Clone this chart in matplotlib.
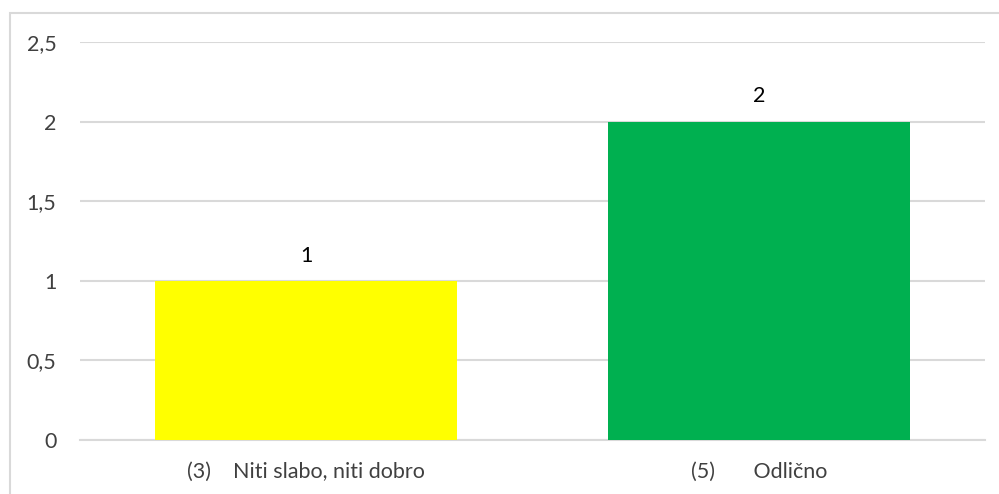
import matplotlib.pyplot as plt
from matplotlib.patches import Rectangle

categories = ["(3)    Niti slabo, niti dobro", "(5)       Odlično"]
values = [1, 2]
colors = ["#FFFF00", "#00B050"]
yticks = [0, 0.5, 1, 1.5, 2, 2.5]
ytick_labels = ["0", "0,5", "1", "1,5", "2", "2,5"]

plt.rcParams['font.family'] = ['Lato', 'DejaVu Sans']

fig = plt.figure(figsize=(9.99, 4.94), dpi=100)
W, H = 999, 494
ax = fig.add_axes([80 / W, (H - 440) / H, (985 - 80) / W, (440 - 42) / H])

x = range(len(categories))
ax.bar(x, values, width=0.667, color=colors, zorder=3)
for xi, v in zip(x, values):
    ax.annotate(str(v), (xi, v), xytext=(0, 11), textcoords="offset points",
                ha="center", va="bottom", fontsize=15.5, color="#000000")

ax.set_xlim(-0.5, 1.5)
ax.set_ylim(0, 2.5)
ax.set_yticks(yticks)
ax.set_yticklabels(ytick_labels)
ax.set_xticks(list(x))
ax.set_xticklabels(categories)
ax.tick_params(axis="y", length=0, pad=17, labelsize=15.5, labelcolor="#404040")
ax.tick_params(axis="x", length=0, pad=16, labelsize=15.5, labelcolor="#404040")
ax.grid(axis="y", color="#D9D9D9", linewidth=1.5, zorder=0)
for s in ["top", "right", "left"]:
    ax.spines[s].set_visible(False)
ax.spines["bottom"].set_color("#D9D9D9")
ax.spines["bottom"].set_linewidth(1.5)

fig.patches.append(Rectangle((10 / W, -0.1), 1.1, (H - 13) / H + 0.1,
                             transform=fig.transFigure, fill=False,
                             edgecolor="#D9D9D9", linewidth=1.5))

fig.savefig("out.png", dpi=100)
